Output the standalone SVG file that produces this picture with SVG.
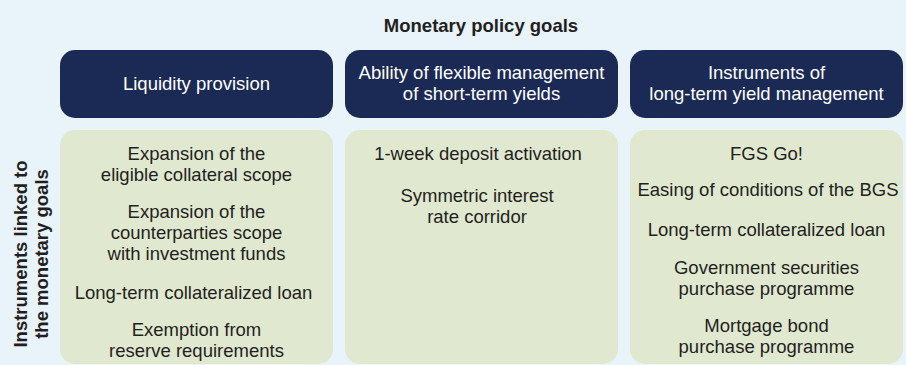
<svg xmlns="http://www.w3.org/2000/svg" width="906" height="365" viewBox="0 0 906 365">
<style>
.bg{fill:#e8f3fa}
.goal{fill:#1b2a55}
.inst{fill:#e0e8d0}
text{font-family:"Liberation Sans",Arial,sans-serif;text-anchor:middle}
.gt{fill:#ffffff;font-size:18.5px}
.it{fill:#231f20;font-size:18.5px}
.ttl{fill:#231f20;font-size:18.5px;font-weight:bold}
</style>
<rect class="bg" x="0" y="0" width="906" height="365"/>
<text class="ttl" x="481" y="32">Monetary policy goals</text>
<text class="ttl" transform="translate(0,254) rotate(-90)"><tspan x="0" y="26.5">Instruments linked to</tspan><tspan x="0" y="47.5">the monetary goals</tspan></text>
<g id="goal-liquidity">
<rect class="goal" x="60" y="50" width="273" height="68" rx="15"/>
<text class="gt" x="196.5" y="90">Liquidity provision</text>
</g>
<g id="goal-short">
<rect class="goal" x="345" y="50" width="273" height="68" rx="15"/>
<text class="gt" x="481.5" y="79">Ability of flexible management</text>
<text class="gt" x="481.5" y="100">of short-term yields</text>
</g>
<g id="goal-long">
<rect class="goal" x="630" y="50" width="273" height="68" rx="15"/>
<text class="gt" x="766.5" y="79">Instruments of</text>
<text class="gt" x="766.5" y="100">long-term yield management</text>
</g>
<g id="inst-liquidity">
<rect class="inst" x="60" y="130" width="273" height="234" rx="15"/>
<text class="it" x="196.5" y="160">Expansion of the</text>
<text class="it" x="196.5" y="181">eligible collateral scope</text>
<text class="it" x="196.5" y="218">Expansion of the</text>
<text class="it" x="196.5" y="239">counterparties scope</text>
<text class="it" x="196.5" y="260">with investment funds</text>
<text class="it" x="193.5" y="299">Long-term collateralized loan</text>
<text class="it" x="196.5" y="336">Exemption from</text>
<text class="it" x="196.5" y="357">reserve requirements</text>
</g>
<g id="inst-short">
<rect class="inst" x="345" y="130" width="273" height="234" rx="15"/>
<text class="it" x="478" y="160">1-week deposit activation</text>
<text class="it" x="477" y="202">Symmetric interest</text>
<text class="it" x="477" y="223">rate corridor</text>
</g>
<g id="inst-long">
<rect class="inst" x="630" y="130" width="273" height="234" rx="15"/>
<text class="it" x="766.5" y="160">FGS Go!</text>
<text class="it" x="768" y="196">Easing of conditions of the BGS</text>
<text class="it" x="766.5" y="236">Long-term collateralized loan</text>
<text class="it" x="766.5" y="274">Government securities</text>
<text class="it" x="766.5" y="295">purchase programme</text>
<text class="it" x="766.5" y="332">Mortgage bond</text>
<text class="it" x="766.5" y="353">purchase programme</text>
</g>
<g id="connectors"></g>
</svg>
